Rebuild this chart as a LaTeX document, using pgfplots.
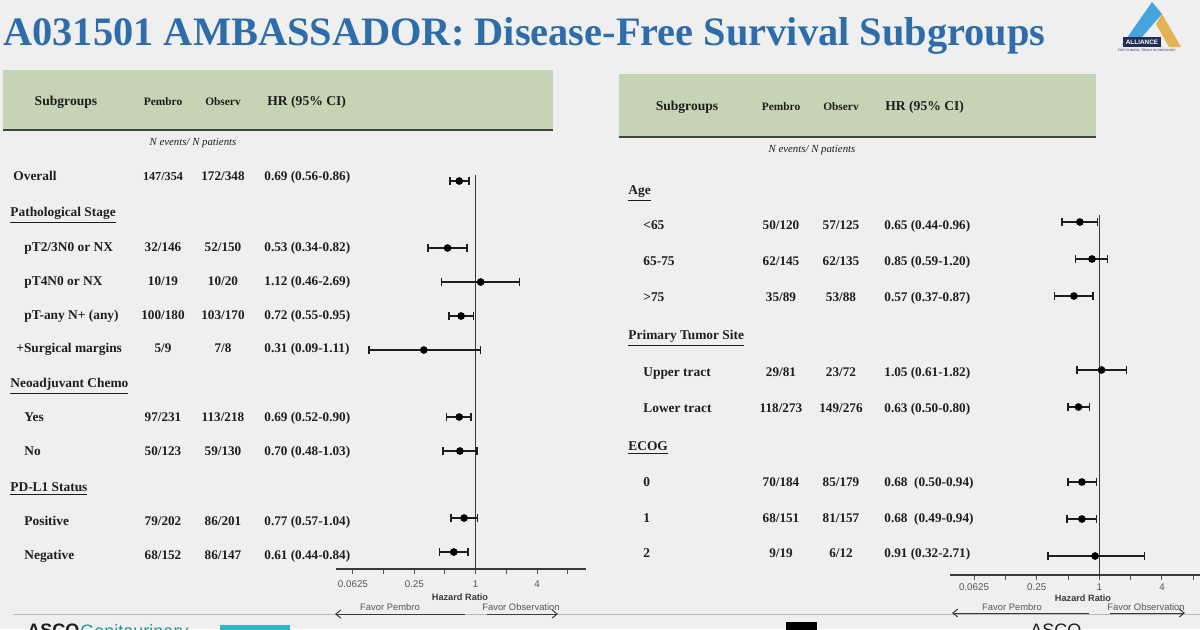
\documentclass[border=0pt]{standalone}
\usepackage{pgfplots}
\pgfplotsset{compat=1.18}
\usepackage{fontspec}
\setmainfont{Liberation Serif}
\setsansfont{Liberation Sans}
\usetikzlibrary{arrows.meta}
\definecolor{bg}{HTML}{EFEFEF}
\definecolor{hdr}{HTML}{C6D4B6}
\definecolor{hdrline}{HTML}{3C463C}
\definecolor{titleblue}{HTML}{2E6DAA}
\definecolor{ink}{HTML}{1E1E1E}
\definecolor{axgrey}{HTML}{3A3A3A}
\definecolor{tickgrey}{HTML}{555555}
\definecolor{lblue}{HTML}{45A3DD}
\definecolor{gold}{HTML}{E2B455}
\definecolor{navy}{HTML}{1F2F55}
\definecolor{asco}{HTML}{2FB5C8}

\tikzset{
  lab/.style={anchor=base west, inner sep=0pt, font=\fontsize{6.7}{8}\selectfont\bfseries, text=ink},
  num/.style={anchor=base, inner sep=0pt, font=\fontsize{6.6}{8}\selectfont\bfseries, text=ink},
  hrt/.style={anchor=base west, inner sep=0pt, font=\fontsize{6.6}{8}\selectfont\bfseries, text=ink},
  hd/.style={anchor=base, inner sep=0pt, font=\fontsize{6.8}{8}\selectfont\bfseries, text=ink},
  hds/.style={anchor=base, inner sep=0pt, font=\fontsize{5.7}{7}\selectfont\bfseries, text=ink},
  nev/.style={anchor=base, inner sep=0pt, font=\fontsize{5.4}{7}\selectfont\itshape, text=ink},
  fav/.style={anchor=base, inner sep=0pt, font=\sffamily\fontsize{4.7}{6}\selectfont, text=tickgrey},
  hzr/.style={anchor=base, inner sep=0pt, font=\sffamily\bfseries\fontsize{4.6}{6}\selectfont, text=axgrey},
}

\begin{document}
\begin{tikzpicture}[x=0.5pt,y=-0.5pt]
\fill[bg] (0,0) rectangle (1200,629);
\path[use as bounding box] (0,0) rectangle (1200,629);

% title
\node[anchor=base west, inner sep=0pt, text=titleblue, font=\fontsize{20.2}{24}\selectfont\bfseries] at (3,45) {A031501 AMBASSADOR: Disease-Free Survival Subgroups};

% logo
\fill[lblue] (1122,45) -- (1152,2) -- (1162,14) -- (1135,45) -- cycle;
\fill[gold] (1162,14) -- (1181,47) -- (1169,47) -- (1156,24) -- cycle;
\fill[navy] (1123,37) rectangle (1161,47);
\node[inner sep=0pt, text=white, font=\sffamily\bfseries\fontsize{3.2}{3}\selectfont] at (1142,42) {ALLIANCE};
\node[inner sep=0pt, text=navy, font=\sffamily\fontsize{1.6}{2}\selectfont] at (1147,50.5) {FOR CLINICAL TRIALS IN ONCOLOGY};

% header bars
\fill[hdr] (3,70) rectangle (553,130);
\draw[hdrline, line width=1pt] (3,130) -- (553,130);
\fill[hdr] (619,74) rectangle (1096,137);
\draw[hdrline, line width=1pt] (619,137) -- (1096,137);

% slide line at bottom
\draw[gray!55, line width=0.5pt] (13,614) -- (1200,614);

% bottom cut-off logos
\fill[asco] (220,625) rectangle (290,640);
\node[anchor=north west, inner sep=0pt, text=ink, font=\sffamily\bfseries\fontsize{9}{10}\selectfont] at (27,624) {ASCO};
\node[anchor=north west, inner sep=0pt, text=asco!80!black, font=\sffamily\fontsize{9}{10}\selectfont] at (80,624) {Genitourinary};
\fill[black] (786,622) rectangle (817,640);
\node[anchor=north west, inner sep=0pt, text=ink, font=\sffamily\fontsize{9}{10}\selectfont] at (1030,624) {ASCO};

% ---------------- left table text ----------------
\node[hd] at (66,105.5) {Subgroups};
\node[hds] at (163,105.5) {Pembro};
\node[hds] at (223,105.5) {Observ};
\node[hd, anchor=base west] at (267,105.5) {HR (95\% CI)};
\node[nev] at (193,145) {N events/ N patients};

\node[lab] at (13,180.5) {Overall};
\node[num, font=\fontsize{6.1}{8}\selectfont\bfseries] at (163,180.5) {147/354};
\node[num] at (223,180.5) {172/348};
\node[hrt] at (264,180.5) {0.69 (0.56-0.86)};

\node[lab] at (10,216.5) {\underline{Pathological Stage}};

\node[lab] at (24,251.5) {pT2/3N0 or NX};
\node[num] at (163,251.5) {32/146};
\node[num] at (223,251.5) {52/150};
\node[hrt] at (264,251.5) {0.53 (0.34-0.82)};

\node[lab] at (24,285.5) {pT4N0 or NX};
\node[num] at (163,285.5) {10/19};
\node[num] at (223,285.5) {10/20};
\node[hrt] at (264,285.5) {1.12 (0.46-2.69)};

\node[lab] at (24,319.5) {pT-any N+ (any)};
\node[num] at (163,319.5) {100/180};
\node[num] at (223,319.5) {103/170};
\node[hrt] at (264,319.5) {0.72 (0.55-0.95)};

\node[lab] at (16,352.5) {+Surgical margins};
\node[num] at (163,352.5) {5/9};
\node[num] at (223,352.5) {7/8};
\node[hrt] at (264,352.5) {0.31 (0.09-1.11)};

\node[lab] at (10,387.5) {\underline{Neoadjuvant Chemo}};

\node[lab] at (24,421.5) {Yes};
\node[num] at (163,421.5) {97/231};
\node[num] at (223,421.5) {113/218};
\node[hrt] at (264,421.5) {0.69 (0.52-0.90)};

\node[lab] at (24,455.5) {No};
\node[num] at (163,455.5) {50/123};
\node[num] at (223,455.5) {59/130};
\node[hrt] at (264,455.5) {0.70 (0.48-1.03)};

\node[lab] at (10,491.5) {\underline{PD-L1 Status}};

\node[lab] at (24,525.5) {Positive};
\node[num] at (163,525.5) {79/202};
\node[num] at (223,525.5) {86/201};
\node[hrt] at (264,525.5) {0.77 (0.57-1.04)};

\node[lab] at (24,559.5) {Negative};
\node[num] at (163,559.5) {68/152};
\node[num] at (223,559.5) {86/147};
\node[hrt] at (264,559.5) {0.61 (0.44-0.84)};

% ---------------- right table text ----------------
\node[hd] at (687,110.5) {Subgroups};
\node[hds] at (781,110.5) {Pembro};
\node[hds] at (841,110.5) {Observ};
\node[hd, anchor=base west] at (885,110.5) {HR (95\% CI)};
\node[nev] at (812,152) {N events/ N patients};

\node[lab] at (628,194.5) {\underline{Age}};

\node[lab] at (643,229.5) {<65};
\node[num] at (781,229.5) {50/120};
\node[num] at (841,229.5) {57/125};
\node[hrt] at (884,229.5) {0.65 (0.44-0.96)};

\node[lab] at (643,265.5) {65-75};
\node[num] at (781,265.5) {62/145};
\node[num] at (841,265.5) {62/135};
\node[hrt] at (884,265.5) {0.85 (0.59-1.20)};

\node[lab] at (643,301.5) {>75};
\node[num] at (781,301.5) {35/89};
\node[num] at (841,301.5) {53/88};
\node[hrt] at (884,301.5) {0.57 (0.37-0.87)};

\node[lab] at (628,339.5) {\underline{Primary Tumor Site}};

\node[lab] at (643,376.5) {Upper tract};
\node[num] at (781,376.5) {29/81};
\node[num] at (841,376.5) {23/72};
\node[hrt] at (884,376.5) {1.05 (0.61-1.82)};

\node[lab] at (643,412.5) {Lower tract};
\node[num] at (781,412.5) {118/273};
\node[num] at (841,412.5) {149/276};
\node[hrt] at (884,412.5) {0.63 (0.50-0.80)};

\node[lab] at (628,450.5) {\underline{ECOG}};

\node[lab] at (643,486.5) {0};
\node[num] at (781,486.5) {70/184};
\node[num] at (841,486.5) {85/179};
\node[hrt] at (884,486.5) {0.68\ \ (0.50-0.94)};

\node[lab] at (643,522.5) {1};
\node[num] at (781,522.5) {68/151};
\node[num] at (841,522.5) {81/157};
\node[hrt] at (884,522.5) {0.68\ \ (0.49-0.94)};

\node[lab] at (643,557.5) {2};
\node[num] at (781,557.5) {9/19};
\node[num] at (841,557.5) {6/12};
\node[hrt] at (884,557.5) {0.91 (0.32-2.71)};

% ---------------- axis annotations ----------------
\node[hzr] at (460,600) {Hazard Ratio};
\node[fav] at (390,610) {Favor Pembro};
\node[fav] at (521,610) {Favor Observation};
\draw[axgrey, line width=0.5pt, -{Straight Barb[length=2.5pt,width=4pt]}] (465,614) -- (335,614);
\draw[axgrey, line width=0.5pt, -{Straight Barb[length=2.5pt,width=4pt]}] (487,614) -- (558,614);

\node[hzr] at (1083,601) {Hazard Ratio};
\node[fav] at (1012,610) {Favor Pembro};
\node[fav] at (1146,610) {Favor Observation};
\draw[axgrey, line width=0.5pt, -{Straight Barb[length=2.5pt,width=4pt]}] (1089,613) -- (952,613);
\draw[axgrey, line width=0.5pt, -{Straight Barb[length=2.5pt,width=4pt]}] (1110,613) -- (1185,613);

% ---------------- left forest plot ----------------
\begin{axis}[at={(168pt,-284.5pt)}, anchor=south west, scale only axis,
  width=125pt, height=197pt, clip=false,
  xmode=log, log basis x=2,
  xmin=0.0426, xmax=12.1, ymin=-569, ymax=-175,
  axis x line=bottom, axis y line=none,
  x axis line style={-, axgrey, line width=0.7pt},
  xtick={0.0625,0.125,0.25,0.5,1,2,4,8},
  xticklabels={\textsf{0.0625},,\textsf{0.25},,\textsf{1},,\textsf{4},},
  tick align=outside, major tick length=2.4pt,
  every tick/.style={tickgrey, line width=0.5pt},
  xticklabel style={font=\fontsize{4.9}{6}\selectfont, text=tickgrey, yshift=0.3pt}]
\addplot[axgrey, line width=0.8pt] coordinates {(1,-175) (1,-569)};
\addplot[ink, line width=0.75pt, mark=|, mark size=1.8pt, mark options={line width=0.75pt}, unbounded coords=jump] coordinates {
 (0.56,-181) (0.86,-181) (nan,nan)
 (0.34,-248) (0.82,-248) (nan,nan)
 (0.46,-282) (2.69,-282) (nan,nan)
 (0.55,-316) (0.95,-316) (nan,nan)
 (0.09,-350) (1.11,-350) (nan,nan)
 (0.52,-417) (0.90,-417) (nan,nan)
 (0.48,-451) (1.03,-451) (nan,nan)
 (0.57,-518) (1.04,-518) (nan,nan)
 (0.44,-552) (0.84,-552)
};
\addplot[only marks, mark=*, mark size=1.7pt, black] coordinates {
 (0.69,-181) (0.53,-248) (1.12,-282) (0.72,-316) (0.31,-350)
 (0.69,-417) (0.70,-451) (0.77,-518) (0.61,-552)
};
\end{axis}

% ---------------- right forest plot ----------------
\begin{axis}[at={(475pt,-287.5pt)}, anchor=south west, scale only axis,
  width=125pt, height=180pt, clip=false,
  xmode=log, log basis x=2,
  xmin=0.0367, xmax=9.28, ymin=-575, ymax=-215,
  axis x line=bottom, axis y line=none,
  x axis line style={-, axgrey, line width=0.7pt},
  xtick={0.0625,0.125,0.25,0.5,1,2,4,8},
  xticklabels={\textsf{0.0625},,\textsf{0.25},,\textsf{1},,\textsf{4},},
  tick align=outside, major tick length=2.4pt,
  every tick/.style={tickgrey, line width=0.5pt},
  xticklabel style={font=\fontsize{4.9}{6}\selectfont, text=tickgrey, yshift=1.8pt}]
\addplot[axgrey, line width=0.8pt] coordinates {(1,-215) (1,-575)};
\addplot[ink, line width=0.75pt, mark=|, mark size=1.8pt, mark options={line width=0.75pt}, unbounded coords=jump] coordinates {
 (0.44,-222) (0.96,-222) (nan,nan)
 (0.59,-259) (1.20,-259) (nan,nan)
 (0.37,-296) (0.87,-296) (nan,nan)
 (0.61,-370) (1.82,-370) (nan,nan)
 (0.50,-407) (0.80,-407) (nan,nan)
 (0.50,-482) (0.94,-482) (nan,nan)
 (0.49,-519) (0.94,-519) (nan,nan)
 (0.32,-556) (2.71,-556)
};
\addplot[only marks, mark=*, mark size=1.7pt, black] coordinates {
 (0.65,-222) (0.85,-259) (0.57,-296) (1.05,-370) (0.63,-407)
 (0.68,-482) (0.68,-519) (0.91,-556)
};
\end{axis}
\end{tikzpicture}
\end{document}
